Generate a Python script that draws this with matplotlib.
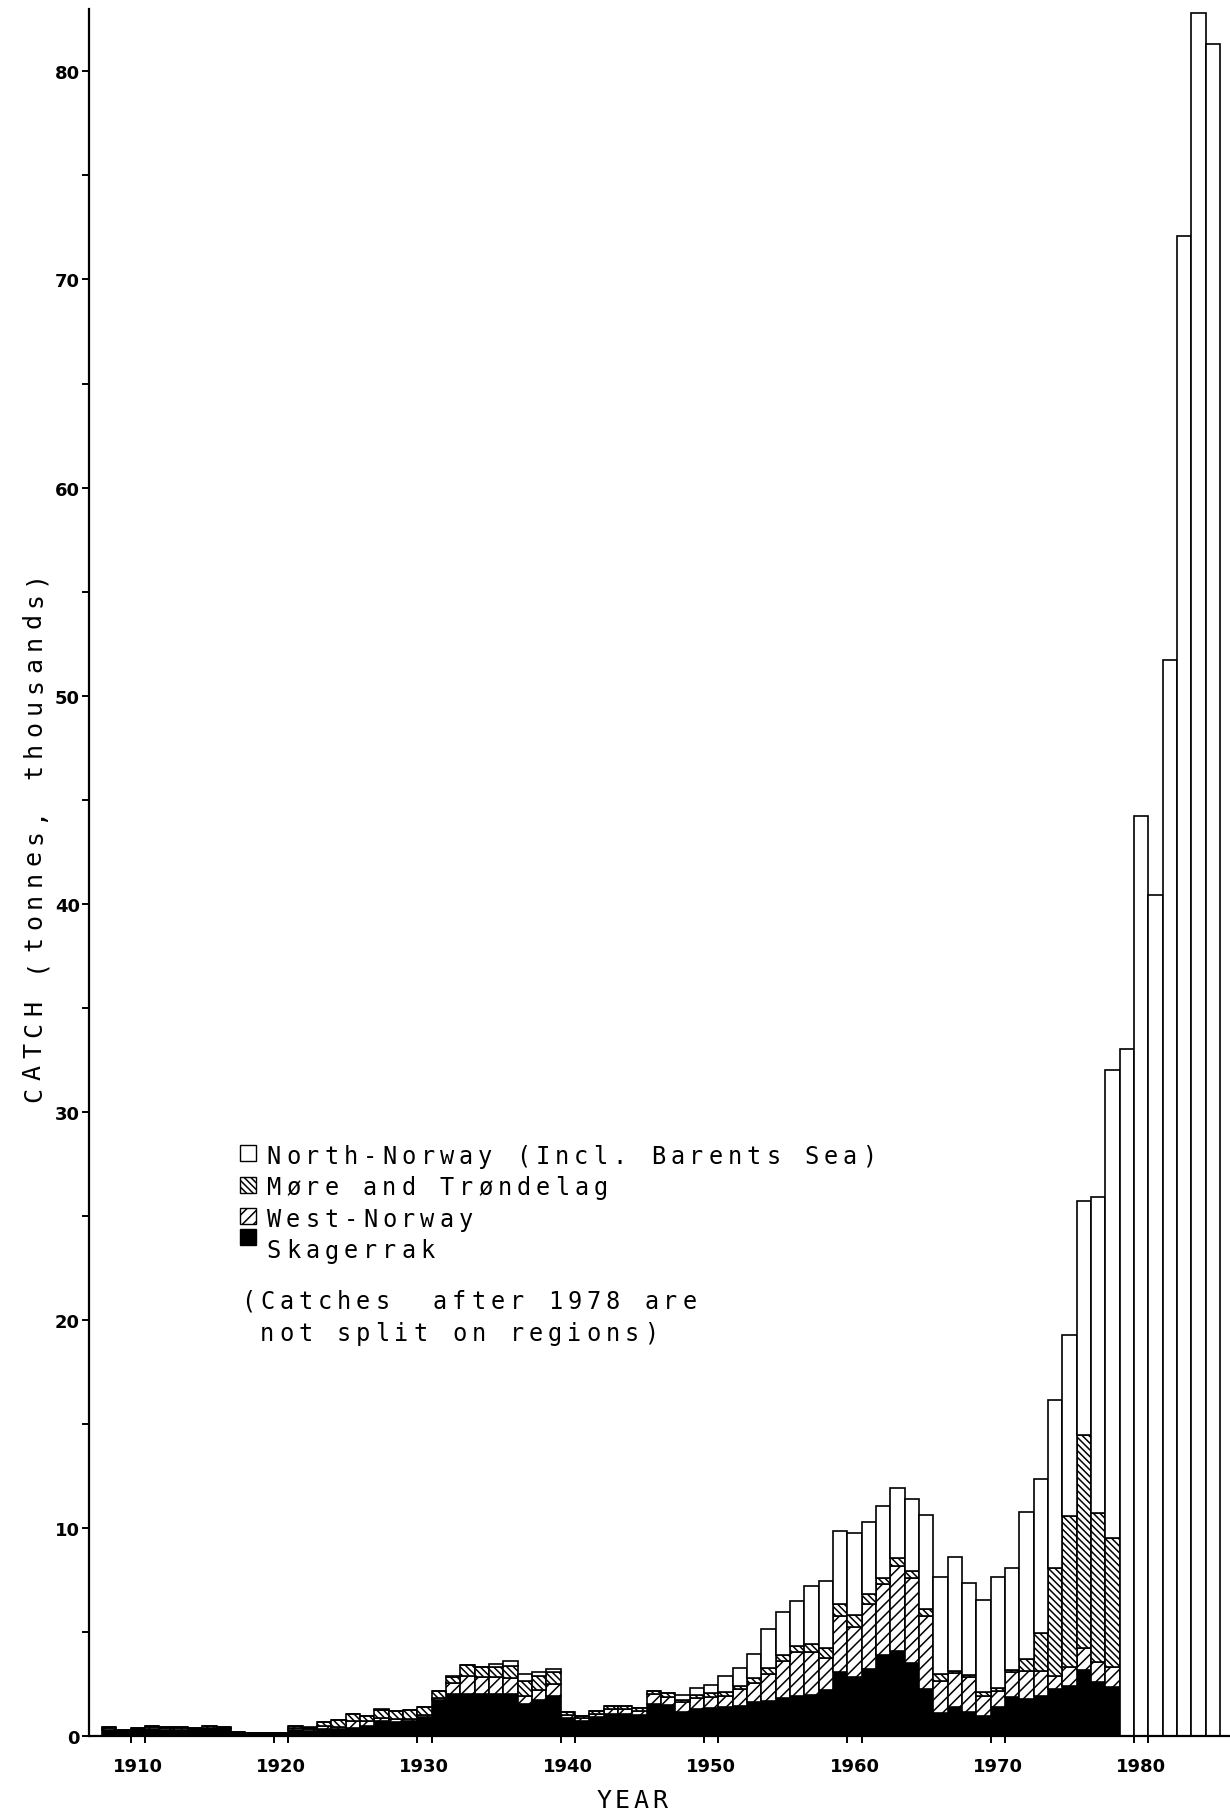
import numpy as np
import matplotlib
matplotlib.use("Agg")
import matplotlib.pyplot as plt
from matplotlib.patches import Rectangle

# catch by region, thousand tonnes, 1908-1978
years_split = list(range(1908, 1979))
skagerrak = [0.30, 0.20, 0.28, 0.33, 0.30, 0.30, 0.27, 0.32, 0.32, 0.15,
             0.12, 0.12, 0.12, 0.28, 0.22, 0.34, 0.35, 0.40, 0.50, 0.70,
             0.68, 0.72, 0.90, 1.72, 2.02, 2.02, 2.02, 2.02, 2.02, 1.54,
             1.75, 1.90, 0.85, 0.72, 0.90, 1.08, 1.08, 1.00, 1.54, 1.49,
             1.17, 1.30, 1.33, 1.38, 1.46, 1.62, 1.70, 1.81, 1.91, 1.97,
             2.23, 3.09, 2.82, 3.22, 3.89, 4.07, 3.49, 2.26, 1.09, 1.41,
             1.14, 0.98, 1.41, 1.89, 1.78, 1.94, 2.26, 2.42, 3.17, 2.61,
             2.34]
west_norway = [0.08, 0.06, 0.07, 0.08, 0.08, 0.08, 0.07, 0.08, 0.07, 0.03,
               0.02, 0.02, 0.02, 0.12, 0.10, 0.16, 0.10, 0.30, 0.20, 0.15,
               0.15, 0.12, 0.12, 0.10, 0.51, 0.88, 0.80, 0.83, 0.75, 0.40,
               0.45, 0.60, 0.15, 0.14, 0.15, 0.20, 0.20, 0.18, 0.46, 0.37,
               0.48, 0.51, 0.53, 0.56, 0.80, 0.91, 1.28, 1.78, 2.11, 2.05,
               1.50, 2.70, 2.43, 3.13, 3.42, 4.09, 4.12, 3.53, 1.57, 1.60,
               1.68, 0.96, 0.77, 1.17, 1.36, 1.20, 0.64, 0.88, 1.04, 0.96,
               0.96]
more_trondelag = [0.05, 0.04, 0.05, 0.07, 0.05, 0.05, 0.04, 0.06, 0.04, 0.02,
                  0.01, 0.01, 0.01, 0.08, 0.08, 0.16, 0.30, 0.36, 0.25, 0.40,
                  0.37, 0.40, 0.37, 0.34, 0.32, 0.50, 0.48, 0.48, 0.58, 0.70,
                  0.67, 0.59, 0.14, 0.12, 0.14, 0.16, 0.16, 0.15, 0.16, 0.20,
                  0.08, 0.16, 0.21, 0.19, 0.13, 0.24, 0.27, 0.30, 0.32, 0.40,
                  0.48, 0.56, 0.57, 0.46, 0.30, 0.38, 0.32, 0.32, 0.32, 0.13,
                  0.11, 0.16, 0.11, 0.11, 0.56, 1.80, 5.16, 7.29, 10.26, 7.14,
                  6.20]
north_norway = [0.02, 0.00, 0.00, 0.02, 0.02, 0.02, 0.02, 0.02, 0.02, 0.00,
                0.00, 0.00, 0.00, 0.02, 0.02, 0.00, 0.04, 0.00, 0.00, 0.03,
                0.02, 0.03, 0.02, 0.02, 0.02, 0.03, 0.02, 0.13, 0.25, 0.36,
                0.19, 0.13, 0.00, 0.00, 0.00, 0.00, 0.00, 0.00, 0.02, 0.01,
                0.24, 0.32, 0.38, 0.74, 0.86, 1.17, 1.89, 2.09, 2.17, 2.78,
                3.23, 3.50, 3.93, 3.46, 3.46, 3.38, 3.45, 4.51, 4.65, 5.45,
                4.43, 4.44, 5.37, 4.89, 7.05, 7.42, 8.11, 8.69, 11.23, 15.19,
                22.50]

# catches after 1978, not split on regions
years_total = list(range(1979, 1986))
total_catch = [33.0, 44.2, 40.4, 51.7, 72.1, 82.8, 81.3]

ytick_values = [0, 10, 20, 30, 40, 50, 60, 70, 80]
xtick_years = [1910, 1920, 1930, 1940, 1950, 1960, 1970, 1980]

legend_lines = ["North-Norway (Incl. Barents Sea)",
                "M\u00f8re and Tr\u00f8ndelag",
                "West-Norway",
                "Skagerrak"]
note_lines = ["(Catches  after 1978 are", " not split on regions)"]

W, H = 1230, 1815
plt.rcParams['font.family'] = ['Liberation Sans Narrow', 'DejaVu Sans']
plt.rcParams['hatch.linewidth'] = 1.1
MONO = ['DejaVu Sans Mono']

fig = plt.figure(figsize=(W / 100, H / 100), dpi=100)
ax = fig.add_axes([89 / W, 78 / H, 1 - 89 / W, 1727 / H])

lw = 1.2
s = np.array(skagerrak)
w = np.array(west_norway)
m = np.array(more_trondelag)
n = np.array(north_norway)
ax.bar(years_split, s, width=1, color='black', edgecolor='black', lw=lw)
ax.bar(years_split, w, bottom=s, width=1, facecolor='white',
       edgecolor='black', hatch='///', lw=lw)
ax.bar(years_split, m, bottom=s + w, width=1, facecolor='white',
       edgecolor='black', hatch='\\\\\\\\\\', lw=lw)
ax.bar(years_split, n, bottom=s + w + m, width=1, facecolor='white',
       edgecolor='black', lw=lw)
ax.bar(years_total, total_catch, width=1, facecolor='white',
       edgecolor='black', lw=lw)

ax.set_xlim(1906.6, 1986.2)
ax.set_ylim(0, 83)
for side in ['top', 'right']:
    ax.spines[side].set_visible(False)
for side in ['left', 'bottom']:
    ax.spines[side].set_linewidth(1.6)

ax.set_yticks(ytick_values)
ax.set_yticks(np.arange(5, 80, 10), minor=True)
ax.tick_params(axis='y', which='both', direction='out', length=5,
               width=1.4, pad=1.5, labelsize=13)
ax.set_xticks(xtick_years)
ax.set_xticklabels([str(y) for y in xtick_years])
ax.set_xticks([y + d for y in xtick_years for d in (-0.5, 0.5)], minor=True)
ax.tick_params(axis='x', which='major', length=0, pad=15, labelsize=13)
ax.tick_params(axis='x', which='minor', direction='out', length=5, width=1.4)
for lab in ax.get_xticklabels() + ax.get_yticklabels():
    lab.set_fontweight('bold')


def spaced(x, y, text, pitch, size, vertical=False):
    # monospaced text with wide letter spacing, pixel coords from top-left
    for i, ch in enumerate(text):
        if ch == ' ':
            continue
        if vertical:
            fig.text(x / W, 1 - (y - i * pitch) / H, ch, rotation=90,
                     rotation_mode='anchor', ha='center', va='baseline',
                     fontsize=size, family=MONO)
        else:
            fig.text((x + i * pitch) / W, 1 - y / H, ch, ha='center',
                     va='baseline', fontsize=size, family=MONO)


# axis titles
spaced(41, 1094, "CATCH (tonnes, thousands)", 21.5, 18, vertical=True)
spaced(604, 1808, "YEAR", 18.5, 18)

# legend
swatches = [dict(facecolor='white'),
            dict(facecolor='white', hatch='\\\\\\\\\\'),
            dict(facecolor='white', hatch='///'),
            dict(facecolor='black')]
swatch_tops = [1146, 1178, 1209, 1230]
for top, kw in zip(swatch_tops, swatches):
    fig.add_artist(Rectangle((240 / W, 1 - (top + 16) / H), 16 / W, 16 / H,
                             transform=fig.transFigure, edgecolor='black',
                             lw=1.0, **kw))
for i, line in enumerate(legend_lines):
    spaced(274, 1164 + i * 31.5, line, 19.2, 17)
for i, line in enumerate(note_lines):
    spaced(248, 1309 + i * 32, line, 19.2, 17)

fig.savefig('out.png', dpi=100)
